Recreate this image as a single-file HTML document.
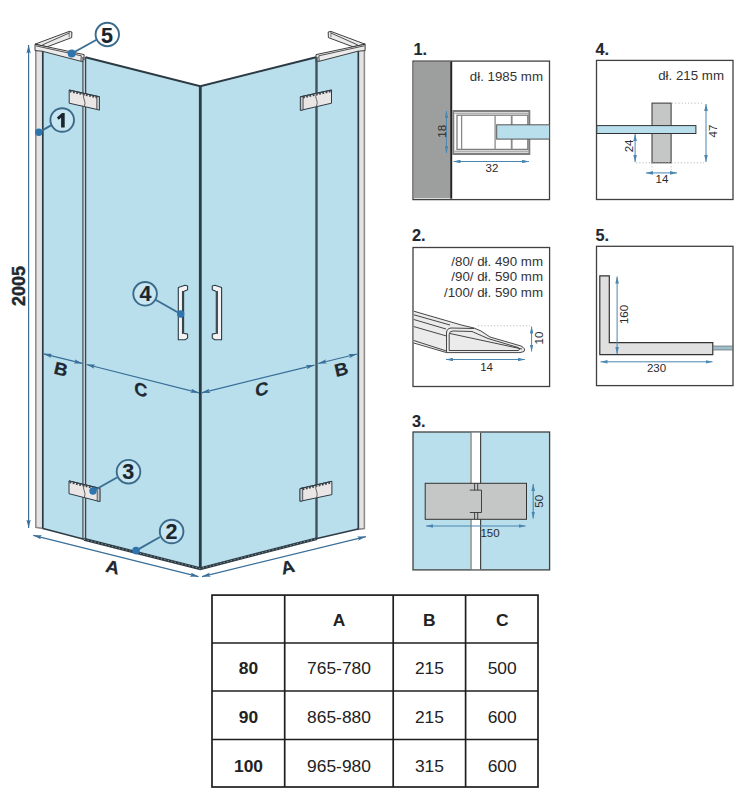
<!DOCTYPE html>
<html><head><meta charset="utf-8">
<style>
html,body{margin:0;padding:0;background:#fff;width:751px;height:800px;overflow:hidden}
svg{display:block}
text{font-family:"Liberation Sans",sans-serif}
</style></head>
<body>
<svg width="751" height="800" viewBox="0 0 751 800">
<defs>
<marker id="ah" viewBox="0 0 10 10" refX="10" refY="5" markerWidth="8.5" markerHeight="4.4" orient="auto-start-reverse" markerUnits="userSpaceOnUse" preserveAspectRatio="none">
<path d="M0,0 L10,5 L0,10 L2,5 z" fill="#3a6f99"/>
</marker>
<marker id="as" viewBox="0 0 10 10" refX="10" refY="5" markerWidth="7" markerHeight="3.6" orient="auto-start-reverse" markerUnits="userSpaceOnUse" preserveAspectRatio="none">
<path d="M0,0 L10,5 L0,10 z" fill="#4a86b0"/>
</marker>
</defs>
<rect width="751" height="800" fill="#fff"/>

<!-- ===== MAIN ENCLOSURE ===== -->
<g id="main">
<!-- glass -->
<polygon points="43,51 83,61 85.5,57.3 200.3,86.2 316,57.3 318.5,61 358.2,51 358.2,529.3 317,538.6 200.3,568.6 84,539.3 43,528.6" fill="#b9deec"/>
<!-- left wall profile -->
<polygon points="35.8,44.6 43,46 43,528.6 35.8,527.3" fill="#e4e2e2" stroke="#8a8a8a" stroke-width="1.5"/>
<line x1="42.7" y1="49" x2="42.7" y2="528.6" stroke="#2c3a44" stroke-width="1.5"/>
<!-- right wall profile -->
<polygon points="358.2,51 364.4,44.6 364.4,528.6 358.2,529.3" fill="#e4e2e2" stroke="#8a8a8a" stroke-width="1.5"/>
<line x1="358.4" y1="50" x2="358.4" y2="529.3" stroke="#2c3a44" stroke-width="1.5"/>

<!-- top profiles -->
<g id="tpr" stroke="#2a2a2a" stroke-width="0.9" stroke-linejoin="miter">
<polygon points="330.9,31.4 365.1,44.2 352.9,46.8 328.4,37.6 328.2,32" fill="#ebebeb"/>
<line x1="330.9" y1="33" x2="357.9" y2="45" stroke-width="0.8"/>
<line x1="330.9" y1="31.6" x2="330.9" y2="37.2" stroke-width="0.6"/>
<polygon points="316,54.6 365.1,44.2 365.1,50.6 358,51.2 319.6,61.2 316,61.5" fill="#ebebeb"/>
<polyline points="364.3,45.8 318.8,55.8 319.2,61.2" fill="none" stroke-width="0.8"/>
</g>
<g transform="translate(400.1 0) scale(-1 1)" stroke="#2a2a2a" stroke-width="0.9">
<polygon points="330.9,31.4 365.1,44.2 352.9,46.8 328.4,37.6 328.2,32" fill="#ebebeb"/>
<line x1="330.9" y1="33" x2="357.9" y2="45" stroke-width="0.8"/>
<line x1="330.9" y1="31.6" x2="330.9" y2="37.2" stroke-width="0.6"/>
<polygon points="316,54.6 365.1,44.2 365.1,50.6 358,51.2 319.6,61.2 316,61.5" fill="#ebebeb"/>
<polyline points="364.3,45.8 318.8,55.8 319.2,61.2" fill="none" stroke-width="0.8"/>
</g>

<!-- door top edges -->
<polyline points="85.5,57.3 200.3,86.2 316,57.3" fill="none" stroke="#2c3a44" stroke-width="2"/>
<!-- left hinge double line -->
<line x1="83" y1="57" x2="83" y2="539.5" stroke="#3a464e" stroke-width="1.3"/>
<line x1="85.6" y1="57" x2="85.6" y2="539.5" stroke="#3a464e" stroke-width="1.3"/>
<line x1="84.3" y1="60" x2="84.3" y2="539" stroke="#c8d0d4" stroke-width="1.2"/>
<!-- center line -->
<line x1="200.3" y1="86" x2="200.3" y2="568.6" stroke="#2c3a44" stroke-width="2.8"/>
<!-- right hinge line -->
<line x1="316.5" y1="57" x2="316.5" y2="539" stroke="#46525a" stroke-width="2.4"/>
<!-- bottom edges fixed panels -->
<line x1="43" y1="528.6" x2="84" y2="539.3" stroke="#2c3a44" stroke-width="1.5"/>
<line x1="317" y1="538.6" x2="358.2" y2="529" stroke="#2c3a44" stroke-width="1.5"/>
<!-- bottom seal -->
<polyline points="84,539.3 200.3,568.6 317,538.6" fill="none" stroke="#2c3a44" stroke-width="3"/>
<polyline points="84,539.3 200.3,568.6 317,538.6" fill="none" stroke="#9aa4a9" stroke-width="0.9" stroke-dasharray="1.3,2.3"/>

<!-- hinges -->
<g stroke="#2f3a42" stroke-width="1" fill="#ebe6e6">
<polygon points="69.2,90 99.5,96.8 99.5,110 69.2,103.2"/>
<polygon points="69,480.9 99.9,488.3 99.9,501.6 69,493.7"/>
<polygon points="300.4,96.8 331.5,90 331.5,103.2 300.4,110.4"/>
<polygon points="300,488.6 331.9,481.3 331.9,494.6 300,501.3"/>
</g>
<g fill="#c4c6c8" stroke="#2f3a42" stroke-width="0.8">
<polygon points="96.8,96.2 99.5,96.8 99.5,110 96.8,109.4"/>
<polygon points="97.2,487.7 99.9,488.3 99.9,501.6 97.2,501"/>
<polygon points="300.4,96.8 303.1,96.2 303.1,109.8 300.4,110.4"/>
<polygon points="300,488.6 302.7,488 302.7,500.7 300,501.3"/>
</g>
<g stroke="#2c3a44" stroke-width="1" fill="none">
<line x1="69.2" y1="90" x2="99.5" y2="96.8"/>
<line x1="69" y1="480.9" x2="99.9" y2="488.3"/>
<line x1="300.4" y1="96.8" x2="331.5" y2="90"/>
<line x1="300" y1="488.6" x2="331.9" y2="481.3"/>
</g>
<g stroke="#3a444c" stroke-width="2" fill="none" stroke-dasharray="1.8,1.5">
<line x1="69.8" y1="91.3" x2="97" y2="97.4"/>
<line x1="69.6" y1="482.2" x2="97.4" y2="488.9"/>
<line x1="303" y1="97.4" x2="331" y2="91.3"/>
<line x1="302.6" y1="489.2" x2="331.3" y2="482.6"/>
</g>
<g stroke="#555" stroke-width="0.9" fill="none">
<path d="M84.3,94 Q82.6,97 84.3,100 Q85.8,103 84.3,106.6"/>
<path d="M84.3,485 Q82.6,488 84.3,491 Q85.8,494 84.3,497.5"/>
<path d="M316.5,93.5 Q314.8,96.5 316.5,99.5 Q318,102.5 316.5,106"/>
<path d="M316.5,485 Q314.8,488 316.5,491 Q318,494 316.5,497.5"/>
</g>

<!-- handles -->
<g fill="#f4f2f2" stroke="#2c3a44" stroke-width="1.1" stroke-linejoin="round">
<path d="M178.3,287.4 L185,285.3 L187.6,286 L187.6,289.8 L183.6,291.6 L183.6,333.3 L187.6,334.1 L187.6,338.1 L185,339.8 L178.3,339.8 Z"/>
<path d="M221.6,287.4 L214.9,285.3 L212.3,286 L212.3,289.8 L216.3,291.6 L216.3,333.3 L212.3,334.1 L212.3,338.1 L214.9,339.8 L221.6,339.8 Z"/>
</g>
<g stroke="#3a464e" stroke-width="1.3">
<line x1="182.6" y1="291" x2="182.6" y2="334"/>
<line x1="217.3" y1="291" x2="217.3" y2="334"/>
</g>

<!-- dimensions -->
<g stroke="#3a6f99" stroke-width="1.2" fill="none">
<line x1="28.6" y1="45" x2="28.6" y2="528" marker-start="url(#ah)" marker-end="url(#ah)"/>
<line x1="43.5" y1="353.8" x2="82.4" y2="363.4" marker-start="url(#ah)" marker-end="url(#ah)"/>
<line x1="86.6" y1="364.5" x2="199" y2="392.8" marker-start="url(#ah)" marker-end="url(#ah)"/>
<line x1="201.6" y1="392.8" x2="314.5" y2="365.1" marker-start="url(#ah)" marker-end="url(#ah)"/>
<line x1="318.2" y1="363.5" x2="357.1" y2="354" marker-start="url(#ah)" marker-end="url(#ah)"/>
<line x1="33.3" y1="535.3" x2="198.5" y2="576.6" marker-start="url(#ah)" marker-end="url(#ah)"/>
<line x1="202" y1="576.6" x2="365.9" y2="536.6" marker-start="url(#ah)" marker-end="url(#ah)"/>
</g>
<g font-weight="bold" fill="#1e2830">
<text x="19" y="286" font-size="18" stroke="#1e2830" stroke-width="0.4" text-anchor="middle" dominant-baseline="central" transform="rotate(-90 19 286)">2005</text>
</g>
<g font-weight="bold" fill="#1e2830" stroke="#1e2830" stroke-width="0.2" font-size="18.3" text-anchor="middle">
<text transform="translate(61 369) skewY(14) skewX(-12)" x="0" y="6.6">B</text>
<text transform="translate(140.8 389.4) skewY(14) skewX(0)" x="0" y="6.6">C</text>
<text transform="translate(261.8 388.8) skewY(-14) skewX(0)" x="0" y="6.6">C</text>
<text transform="translate(341.3 369.2) skewY(-14) skewX(12)" x="0" y="6.6">B</text>
<text transform="translate(112.8 566.8) skewY(14) skewX(-12)" x="0" y="6.6">A</text>
<text transform="translate(287.8 566.8) skewY(-14) skewX(12)" x="0" y="6.6">A</text>
</g>

<!-- callouts -->
<g stroke="#3b6f93" stroke-width="2" fill="none">
<line x1="71.7" y1="53.5" x2="97" y2="39.5"/>
<line x1="38.8" y1="132.3" x2="51" y2="125.3"/>
<line x1="180.7" y1="314" x2="156" y2="300"/>
<line x1="93" y1="491" x2="117" y2="477.5"/>
<line x1="136" y1="550.6" x2="160" y2="537"/>
</g>
<g stroke="#3b6a8a" stroke-width="1.9" fill="#d4edf6" fill-opacity="0.55">
<circle cx="107.3" cy="34.5" r="11.7" fill="#fff" fill-opacity="1"/>
<circle cx="62.2" cy="120" r="11.8"/>
<circle cx="145.1" cy="293.8" r="11.8"/>
<circle cx="128.5" cy="471.7" r="11.8"/>
<circle cx="171.6" cy="531.5" r="11.8"/>
</g>
<g fill="#2f74ad">
<circle cx="71.7" cy="53.5" r="4"/>
<circle cx="38.8" cy="132.3" r="3.7"/>
<circle cx="180.7" cy="314" r="3.7"/>
<circle cx="93" cy="491" r="3.7"/>
<circle cx="136" cy="550.6" r="3.8"/>
</g>
<g font-weight="bold" fill="#1a252e" stroke="#1a252e" stroke-width="0.15" font-size="21.5" text-anchor="middle">
<text x="107.1" y="42.5">5</text>
<text x="145.5" y="301.4">4</text>
<text x="128.2" y="479.4">3</text>
<text x="171.4" y="538.6">2</text>
</g>
<path d="M56.9,117.5 L62,112.9 L64.7,112.9 L64.7,127.6 L61.1,127.6 L61.1,117.8 L58.6,119.8 Z" fill="#1a252e"/>
</g>

<!-- ===== DETAIL PANELS ===== -->
<g font-weight="bold" fill="#1e2830" stroke="#1e2830" stroke-width="0.1" font-size="16.3">
<text x="413.5" y="54.8">1.</text>
<text x="595.5" y="54.8">4.</text>
<text x="412" y="241.2">2.</text>
<text x="595.5" y="241.2">5.</text>
<text x="412" y="426.8">3.</text>
</g>
<g fill="#fff" stroke="#404040" stroke-width="1.3">
<rect x="413" y="61.1" width="136.5" height="138.5"/>
<rect x="596.5" y="60.4" width="136.5" height="139.1"/>
<rect x="413" y="247.5" width="136.6" height="139"/>
<rect x="596.5" y="246.3" width="136.5" height="139.3"/>
<rect x="413" y="432" width="136.6" height="137.9" fill="#b9deec"/>
</g>

<!-- panel 1 -->
<rect x="413.8" y="61.9" width="36.6" height="136.4" fill="#9c9f9d"/>
<line x1="451.2" y1="61.5" x2="451.2" y2="198.7" stroke="#222" stroke-width="2"/>
<g fill="none" stroke="#7e7e7e">
<rect x="453.3" y="111" width="76" height="43" stroke-width="2"/>
<rect x="457" y="115.2" width="70.8" height="34.2" stroke-width="1.3"/>
<line x1="454.5" y1="113.2" x2="528.5" y2="113.2" stroke="#b0b0b0" stroke-width="1.4"/>
<line x1="454.5" y1="151.5" x2="528.5" y2="151.5" stroke="#b0b0b0" stroke-width="2"/>
</g>
<g stroke="#8a8a8a" stroke-width="1.3">
<line x1="461.6" y1="115" x2="461.6" y2="149.5"/>
<line x1="495.1" y1="115" x2="495.1" y2="149.5"/>
<line x1="511.7" y1="115" x2="511.7" y2="149.5" stroke-width="1.8"/>
</g>
<rect x="496.7" y="124.8" width="52.8" height="14.3" fill="#b9deec" stroke="#555" stroke-width="1"/>
<g font-size="13.3" fill="#333">
<text x="543" y="80.6" text-anchor="end">dł. 1985 mm</text>
<text x="542" y="80" text-anchor="end" font-size="12" fill="#2a2a2a"></text>
</g>
<g stroke="#4a86b0" stroke-width="1" fill="none">
<line x1="453.5" y1="161.5" x2="529" y2="161.5" marker-start="url(#as)" marker-end="url(#as)"/>
<line x1="446.4" y1="111" x2="446.4" y2="153" marker-start="url(#as)" marker-end="url(#as)"/>
</g>
<g font-size="11.5" fill="#2a2a2a" text-anchor="middle">
<text x="492" y="172">32</text>
<text x="441.6" y="131.3" dominant-baseline="central" transform="rotate(-90 441.6 131.3)">18</text>
</g>

<!-- panel 4 -->
<g font-size="13.3" fill="#333">
<text x="724" y="79.5" text-anchor="end">dł. 215 mm</text>
</g>
<rect x="652" y="103.1" width="19.1" height="59.7" fill="#c5c7c6" stroke="#333" stroke-width="1"/>
<rect x="596.8" y="125.6" width="99.1" height="7.9" fill="#b9deec" stroke="#333" stroke-width="1"/>
<g stroke="#aaa" stroke-width="0.8" stroke-dasharray="1.2,2" fill="none">
<line x1="672" y1="103.1" x2="704" y2="103.1"/>
<line x1="636" y1="162.8" x2="704" y2="162.8"/>
<line x1="652" y1="163" x2="652" y2="170"/>
<line x1="671.1" y1="163" x2="671.1" y2="170"/>
</g>
<g stroke="#4a86b0" stroke-width="1" fill="none">
<line x1="706" y1="104" x2="706" y2="162" marker-start="url(#as)" marker-end="url(#as)"/>
<line x1="635.1" y1="134" x2="635.1" y2="162" marker-start="url(#as)" marker-end="url(#as)"/>
<line x1="646" y1="172.9" x2="677" y2="172.9" marker-start="url(#as)" marker-end="url(#as)"/>
</g>
<g font-size="11.5" fill="#2a2a2a" text-anchor="middle">
<text x="662" y="183.3">14</text>
<text x="712.8" y="131" dominant-baseline="central" transform="rotate(-90 712.8 131)">47</text>
<text x="629.5" y="145.9" dominant-baseline="central" transform="rotate(-90 629.5 145.9)">24</text>
</g>

<!-- panel 2 -->
<g font-size="13.3" fill="#333" text-anchor="end">
<text x="543" y="266.1">/80/ dł. 490 mm</text>
<text x="543" y="280.8">/90/ dł. 590 mm</text>
<text x="543" y="296.5">/100/ dł. 590 mm</text>
</g>
<path d="M413.8,311 L462,325 L474,328 L481,331 L490,337 L521,346 Q526,348.5 524,351.5 L520,352.6 L446.5,352.6 L413.8,342 Z" fill="#ebebeb" stroke="none"/>
<g stroke="#333" stroke-width="0.9" fill="none" stroke-linejoin="round">
<path d="M413.8,311.2 L462,325.2 L474,328 L481,331 L490,337 L521,346 Q526,348.5 524,351.5 L520,352.6 L446.5,352.6"/>
<path d="M413.8,314.8 L450,325"/>
<path d="M413.8,319.5 L446,329"/>
<path d="M413.8,326.6 L446.5,336"/>
<path d="M413.8,340.5 L446.5,351"/>
<path d="M413.8,343 L446.5,352.6"/>
<path d="M446.5,352.6 L446.5,333 Q446.5,328.5 451,328 L474,328.5"/>
<path d="M449.2,350.5 L449.2,334 Q449.5,331 453,331 L472,331.5 L488,338.5 L518,347.5 Q521,349 518.5,350.5 L449.2,350.5"/>
<path d="M450,333.5 L522,349"/>
</g>
<g stroke="#aaa" stroke-width="0.8" stroke-dasharray="1.2,2" fill="none">
<line x1="478" y1="325.8" x2="530" y2="325.8"/>
</g>
<g stroke="#4a86b0" stroke-width="1" fill="none">
<line x1="531.6" y1="326.5" x2="531.6" y2="351.5" marker-start="url(#as)" marker-end="url(#as)"/>
<line x1="446" y1="359.5" x2="524.9" y2="359.5" marker-start="url(#as)" marker-end="url(#as)"/>
</g>
<g font-size="11.5" fill="#2a2a2a" text-anchor="middle">
<text x="486.6" y="371">14</text>
<text x="539.5" y="338.1" dominant-baseline="central" transform="rotate(-90 539.5 338.1)">10</text>
</g>

<!-- panel 5 -->
<path d="M599.8,275.8 L609.3,275.8 L609.3,342.6 L712.8,342.6 L712.8,354.6 L599.8,354.6 Z" fill="#e0e0e0" stroke="#333" stroke-width="1.2"/>
<rect x="713" y="346" width="19.6" height="4" fill="#9fbfcc" stroke="#555" stroke-width="0.6"/>
<g stroke="#4a86b0" stroke-width="1" fill="none">
<line x1="617.1" y1="276.5" x2="617.1" y2="354" marker-start="url(#as)" marker-end="url(#as)"/>
<line x1="600.5" y1="361.8" x2="712.5" y2="361.8" marker-start="url(#as)" marker-end="url(#as)"/>
</g>
<g font-size="11.5" fill="#2a2a2a" text-anchor="middle">
<text x="656.5" y="372.3">230</text>
<text x="623.9" y="314.5" dominant-baseline="central" transform="rotate(-90 623.9 314.5)">160</text>
</g>

<!-- panel 3 -->
<rect x="471.6" y="432.7" width="8.6" height="136.5" fill="#fff" stroke="none"/>
<line x1="471" y1="432.7" x2="471" y2="569.2" stroke="#999" stroke-width="1.6"/>
<line x1="480.6" y1="432.7" x2="480.6" y2="569.2" stroke="#444" stroke-width="1.2"/>
<rect x="425.2" y="483.3" width="101.3" height="36" fill="#c5c7c6" stroke="#333" stroke-width="1"/>
<g stroke="#333" stroke-width="0.9" fill="none">
<path d="M474.6,483.3 L474.6,490.1 M477.7,483.3 L477.7,490.1 M469.8,490.1 L481.5,490.1 L481.5,512.5 L469.8,512.5 M474.6,512.5 L474.6,519.3 M477.7,512.5 L477.7,519.3"/>
</g>
<g stroke="#4a86b0" stroke-width="1.1" fill="none">
<line x1="533.2" y1="484" x2="533.2" y2="518.5" marker-start="url(#as)" marker-end="url(#as)"/>
<line x1="426" y1="526" x2="525.5" y2="526" marker-start="url(#as)" marker-end="url(#as)"/>
</g>
<g font-size="11.5" fill="#2a2a2a" text-anchor="middle">
<text x="490" y="536.5">150</text>
<text x="539.5" y="501.3" dominant-baseline="central" transform="rotate(-90 539.5 501.3)">50</text>
</g>

<!-- ===== TABLE ===== -->
<g stroke="#1e1e1e" stroke-width="1.7" fill="none">
<rect x="212" y="595.1" width="326" height="191.9"/>
<line x1="284.7" y1="595.1" x2="284.7" y2="787"/>
<line x1="393.2" y1="595.1" x2="393.2" y2="787"/>
<line x1="465.6" y1="595.1" x2="465.6" y2="787"/>
<line x1="212" y1="643" x2="538" y2="643"/>
<line x1="212" y1="691" x2="538" y2="691"/>
<line x1="212" y1="739.5" x2="538" y2="739.5"/>
</g>
<g font-size="17.4" fill="#222" text-anchor="middle">
<g font-weight="bold">
<text x="339" y="626.3">A</text>
<text x="429.4" y="626.3">B</text>
<text x="502.2" y="626.3">C</text>
<text x="248.5" y="674.2">80</text>
<text x="248.5" y="723">90</text>
<text x="248.5" y="771.5">100</text>
</g>
<text x="339" y="674.2">765-780</text>
<text x="429.4" y="674.2">215</text>
<text x="502.2" y="674.2">500</text>
<text x="339" y="723">865-880</text>
<text x="429.4" y="723">215</text>
<text x="502.2" y="723">600</text>
<text x="339" y="771.5">965-980</text>
<text x="429.4" y="771.5">315</text>
<text x="502.2" y="771.5">600</text>
</g>

</svg>
</body></html>
